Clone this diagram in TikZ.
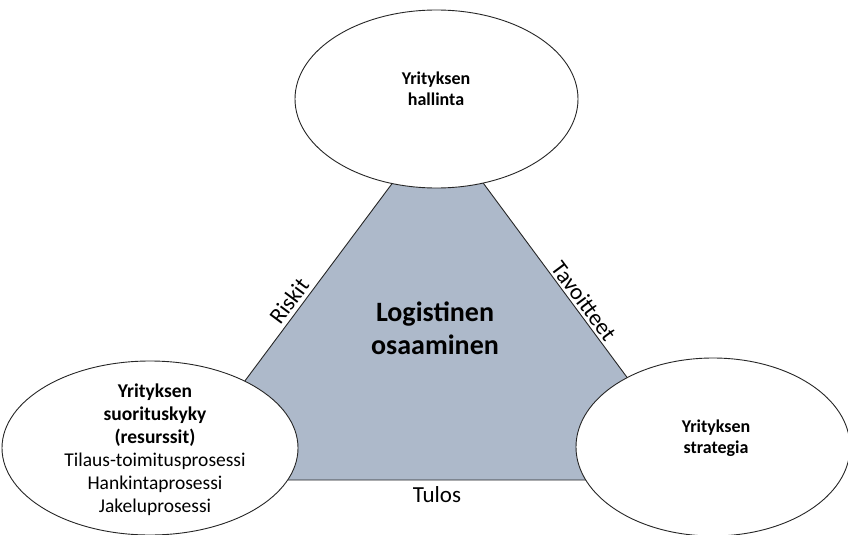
\documentclass[tikz,border=0pt]{standalone}
\usepackage{fontspec}
\setmainfont{Carlito}
\usetikzlibrary{shapes.geometric}
\definecolor{trifill}{HTML}{ADB9CA}
\definecolor{edgec}{HTML}{262626}
\begin{document}
\begin{tikzpicture}[x=1pt,y=-1pt,
  ell/.style={ellipse, draw=edgec, line width=0.9pt, fill=white, inner sep=0pt},
  tri/.style={draw=edgec, line width=0.9pt, fill=trifill},
  bodytext/.style={align=center, inner sep=0pt, font=\fontsize{18}{21}\selectfont},
  edgelabel/.style={inner sep=0pt, font=\fontsize{23}{26}\selectfont},
  centertext/.style={align=center, inner sep=0pt, font=\fontsize{28}{33}\selectfont\bfseries}]
\useasboundingbox (0,0) rectangle (848,535);
\coordinate (A) at (438,122);
\coordinate (B) at (171,480);
\coordinate (C) at (703,480);
\draw[tri] (A) -- (B) -- (C) -- cycle;
\node[edgelabel, rotate=53.3] (riskit) at (289,301) {Riskit};
\node[edgelabel, rotate=-53.3] (tavoitteet) at (584,301) {Tavoitteet};
\node[edgelabel] (tulos) at (437,495) {Tulos};
\node[centertext] (logist) at (435,328) {Logistinen\\osaaminen};
\node[ell, minimum width=283pt, minimum height=178pt] (hall) at (436.5,99) {};
\node[ell, minimum width=296pt, minimum height=174pt] (suor) at (150,448) {};
\node[ell, minimum width=274pt, minimum height=178pt] (strat) at (713,447) {};
\node[bodytext] (hallT) at (436,89) {\bfseries Yrityksen\\\bfseries hallinta};
\node[bodytext, font=\fontsize{19.5}{23}\selectfont] (suorT) at (155,450) {\bfseries Yrityksen\\\bfseries suorituskyky\\\bfseries (resurssit)\\Tilaus-toimitusprosessi\\Hankintaprosessi\\Jakeluprosessi};
\node[bodytext] (stratT) at (716,438) {\bfseries Yrityksen\\\bfseries strategia};
\end{tikzpicture}
\end{document}
